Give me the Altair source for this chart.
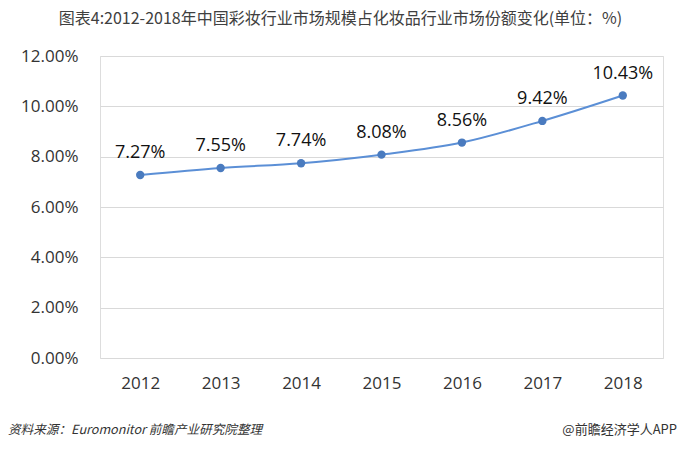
import altair as alt
import pandas as pd

years = ["2012", "2013", "2014", "2015", "2016", "2017", "2018"]
shares = [0.0727, 0.0755, 0.0774, 0.0808, 0.0856, 0.0942, 0.1043]
y_ticks = [0, 0.02, 0.04, 0.06, 0.08, 0.10, 0.12]
title_text = "图表4:2012-2018年中国彩妆行业市场规模占化妆品行业市场份额变化(单位：%)"
source_text = "资料来源：Euromonitor 前瞻产业研究院整理"
brand_text = "@前瞻经济学人APP"

df = pd.DataFrame({"year": years, "share": shares})

W, H = 563, 302
FONT = "Open Sans"

x = alt.X("year:N", title=None, sort=years,
          scale=alt.Scale(paddingInner=0, paddingOuter=0.5),
          axis=alt.Axis(labelAngle=0, labelFontSize=17, labelColor="#333333", labelFont=FONT,
                        ticks=False, domain=False, labelPadding=17))
y = alt.Y("share:Q", title=None,
          scale=alt.Scale(domain=[0, 0.12], nice=False),
          axis=alt.Axis(values=y_ticks, format=".2%", labelFontSize=17, labelColor="#333333",
                        labelFont=FONT, ticks=False, domain=False, gridColor="#d9d9d9",
                        labelPadding=22))

base = alt.Chart(df)
line = base.mark_line(color="#5b8fd6", strokeWidth=2, interpolate="monotone").encode(x=x, y=y)
pts = base.mark_point(filled=True, color="#4a7bbf", size=70, opacity=1).encode(x=x, y=y)
labels = base.mark_text(dy=-22, fontSize=18, font=FONT, color="#111111").encode(
    x=x, y=y, text=alt.Text("share:Q", format=".2%"))

foot_df = pd.DataFrame({"t": [source_text]})
foot = alt.Chart(foot_df).mark_text(align="left", baseline="middle", fontSize=12.6,
                                    fontStyle="italic", color="#333333", font="Noto Sans CJK SC").encode(
    x=alt.value(-92), y=alt.value(H + 72), text="t:N")
brand_df = pd.DataFrame({"t": [brand_text]})
brand = alt.Chart(brand_df).mark_text(align="right", baseline="middle", fontSize=13,
                                      color="#333333", font="Noto Sans CJK SC").encode(
    x=alt.value(W + 14), y=alt.value(H + 72), text="t:N")

chart = alt.layer(line, pts, labels, foot, brand).properties(
    width=W, height=H,
    autosize=alt.AutoSizeParams(type="none"),
    padding={"left": 100, "top": 56, "right": 17, "bottom": 93},
    title=alt.TitleParams(title_text, fontSize=16, font="Noto Sans CJK SC", fontWeight="normal",
                          color="#404040", anchor="middle", offset=20, dx=-41),
).configure_view(stroke=None).configure(background="white")

chart.save("out.html", embed_options={"renderer": "svg", "actions": False})
